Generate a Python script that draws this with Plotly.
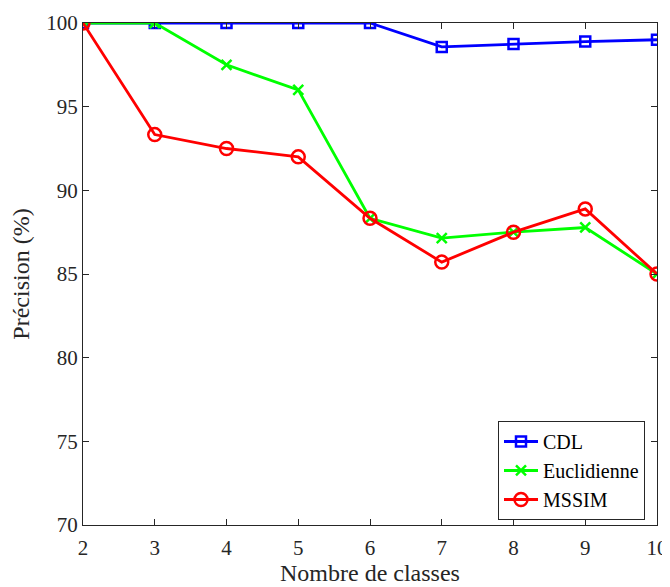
import plotly.graph_objects as go

# --- DATA ---
nb_classes = [2, 3, 4, 5, 6, 7, 8, 9, 10]
cdl = [100, 100, 100, 100, 100, 98.57, 98.75, 98.89, 99.0]
euclidienne = [100, 100, 97.5, 96.0, 88.33, 87.14, 87.5, 87.78, 85.0]
mssim = [100, 93.33, 92.5, 92.0, 88.33, 85.71, 87.5, 88.89, 85.0]
x_ticks = [2, 3, 4, 5, 6, 7, 8, 9, 10]
y_ticks = [70, 75, 80, 85, 90, 95, 100]
# -------------

FONT = "Liberation Serif"
AXIS_COLOR = "#262626"

fig = go.Figure()

fig.add_trace(go.Scatter(x=nb_classes, y=cdl, mode="lines+markers", name="CDL",
                         line=dict(color="#0000FF", width=2.8),
                         marker=dict(symbol="square-open", size=10, color="#0000FF",
                                     line=dict(width=2.5, color="#0000FF"))))

fig.add_trace(go.Scatter(x=nb_classes, y=euclidienne, mode="lines+markers", name="Euclidienne",
                         line=dict(color="#00FF00", width=2.8),
                         marker=dict(symbol="x-thin", size=10, color="#00FF00",
                                     line=dict(width=2.5, color="#00FF00"))))

fig.add_trace(go.Scatter(x=nb_classes, y=mssim, mode="lines+markers", name="MSSIM",
                         line=dict(color="#FF0000", width=2.8),
                         marker=dict(symbol="circle-open", size=13, color="#FF0000",
                                     line=dict(width=2.5, color="#FF0000"))))

fig.update_xaxes(range=[2, 10], tickvals=x_ticks, ticks="inside", ticklen=6,
                 tickcolor=AXIS_COLOR, showline=True, linecolor=AXIS_COLOR, linewidth=1,
                 mirror="ticks", showgrid=False, zeroline=False, automargin=False,
                 ticklabelstandoff=4,
                 tickfont=dict(family=FONT, size=21, color=AXIS_COLOR))

fig.update_yaxes(range=[70, 100], tickvals=y_ticks, ticks="inside", ticklen=6,
                 tickcolor=AXIS_COLOR, showline=True, linecolor=AXIS_COLOR, linewidth=1,
                 mirror="ticks", showgrid=False, zeroline=False, automargin=False,
                 tickfont=dict(family=FONT, size=21, color=AXIS_COLOR),
                 title=dict(text="Précision (%)",
                            font=dict(family=FONT, size=24, color=AXIS_COLOR)))

# x-axis title as annotation so it stays inside the page
fig.add_annotation(text="Nombre de classes", xref="paper", yref="paper",
                   x=0.5, y=-0.095, xanchor="center", yanchor="middle",
                   showarrow=False, font=dict(family=FONT, size=24, color=AXIS_COLOR))

fig.update_layout(
    width=670, height=587,
    margin=dict(l=75, r=21, t=15, b=70),
    plot_bgcolor="white", paper_bgcolor="white",
    legend=dict(x=0.723, y=0.010, xanchor="left", yanchor="bottom",
                bgcolor="white", bordercolor=AXIS_COLOR, borderwidth=1,
                font=dict(family=FONT, size=20, color="black"),
                tracegroupgap=0, itemwidth=34),
    showlegend=True,
)

# no scrollbars, so the "10" tick label is not hidden behind one
fig.write_html("out.html",
               post_script="document.documentElement.style.overflow='hidden';"
                           "document.body.style.overflow='hidden';")
